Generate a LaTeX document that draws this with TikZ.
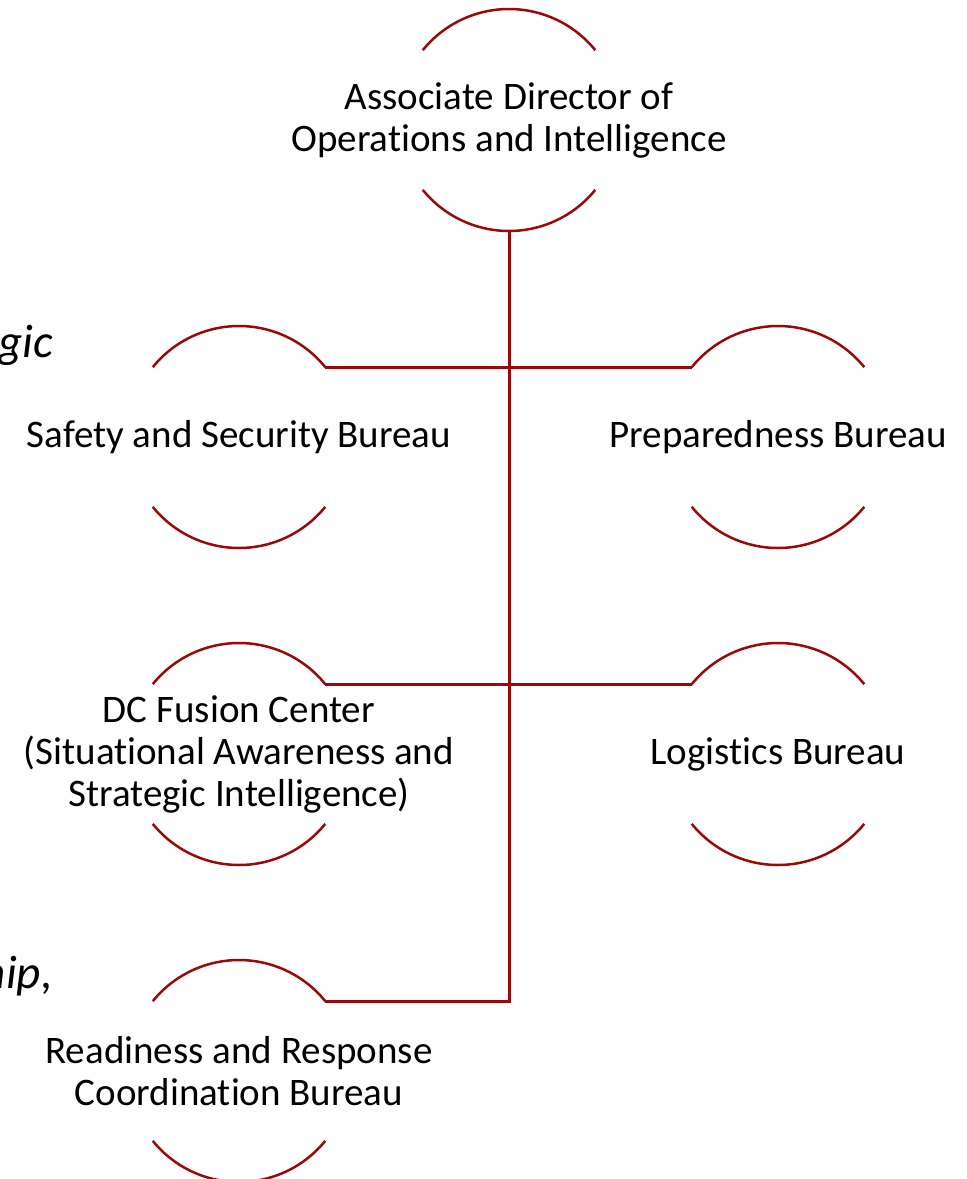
\documentclass[tikz,border=0pt]{standalone}
\usepackage{fontspec}
\setmainfont{Carlito}[Ligatures=NoCommon]
\usetikzlibrary{calc}
\definecolor{darkred}{RGB}{155,8,8}
\tikzset{
  circ/.style={circle, minimum size=222pt, inner sep=0pt, outer sep=0pt, draw=none},
  lbl/.style={align=center, font=\fontsize{39}{42}\selectfont, text=black},
  frag/.style={anchor=base east, font=\itshape\fontsize{47}{56}\selectfont, text=black, inner sep=0pt},
  arcline/.style={draw=darkred, line width=2.5pt},
  conn/.style={draw=darkred, line width=3pt}
}
\newcommand\orgarcs[1]{%
  \draw[arcline] (#1.39) arc[start angle=39,end angle=141,radius=111pt];
  \draw[arcline] (#1.219) arc[start angle=219,end angle=321,radius=111pt];}
\begin{document}
\begin{tikzpicture}[x=1pt,y=1pt]
\useasboundingbox (0,0) rectangle (967,-1179);
% circles
\node[circ] (top) at (509,-120) {};
\node[circ] (ssb) at (239,-437) {};
\node[circ] (prep) at (778,-437) {};
\node[circ] (dcfc) at (239,-754) {};
\node[circ] (log) at (778,-754) {};
\node[circ] (rrc) at (239,-1071) {};
% labels
\node[lbl] (ttop) at (top) {Associate Director of\\Operations and Intelligence};
\node[lbl] (tssb) at (ssb) {Safety and Security Bureau};
\node[lbl] (tprep) at (prep) {Preparedness Bureau};
\node[lbl] (tdcfc) at (dcfc) {DC Fusion Center\\(Situational Awareness and\\Strategic Intelligence)};
\node[lbl] (tlog) at (log) {Logistics Bureau};
\node[lbl] (trrc) at (rrc) {Readiness and Response\\Coordination Bureau};
% clipped fragments
\node[frag] (f1) at (53,-357) {gic};
\node[frag] (f2) at (53,-988) {hip,};
% arcs
\orgarcs{top}\orgarcs{ssb}\orgarcs{prep}\orgarcs{dcfc}\orgarcs{log}\orgarcs{rrc}
% connectors
\draw[conn] (top.south) |- (rrc.39);
\draw[conn] (ssb.39) -- (prep.141);
\draw[conn] (dcfc.39) -- (log.141);
\end{tikzpicture}
\end{document}
